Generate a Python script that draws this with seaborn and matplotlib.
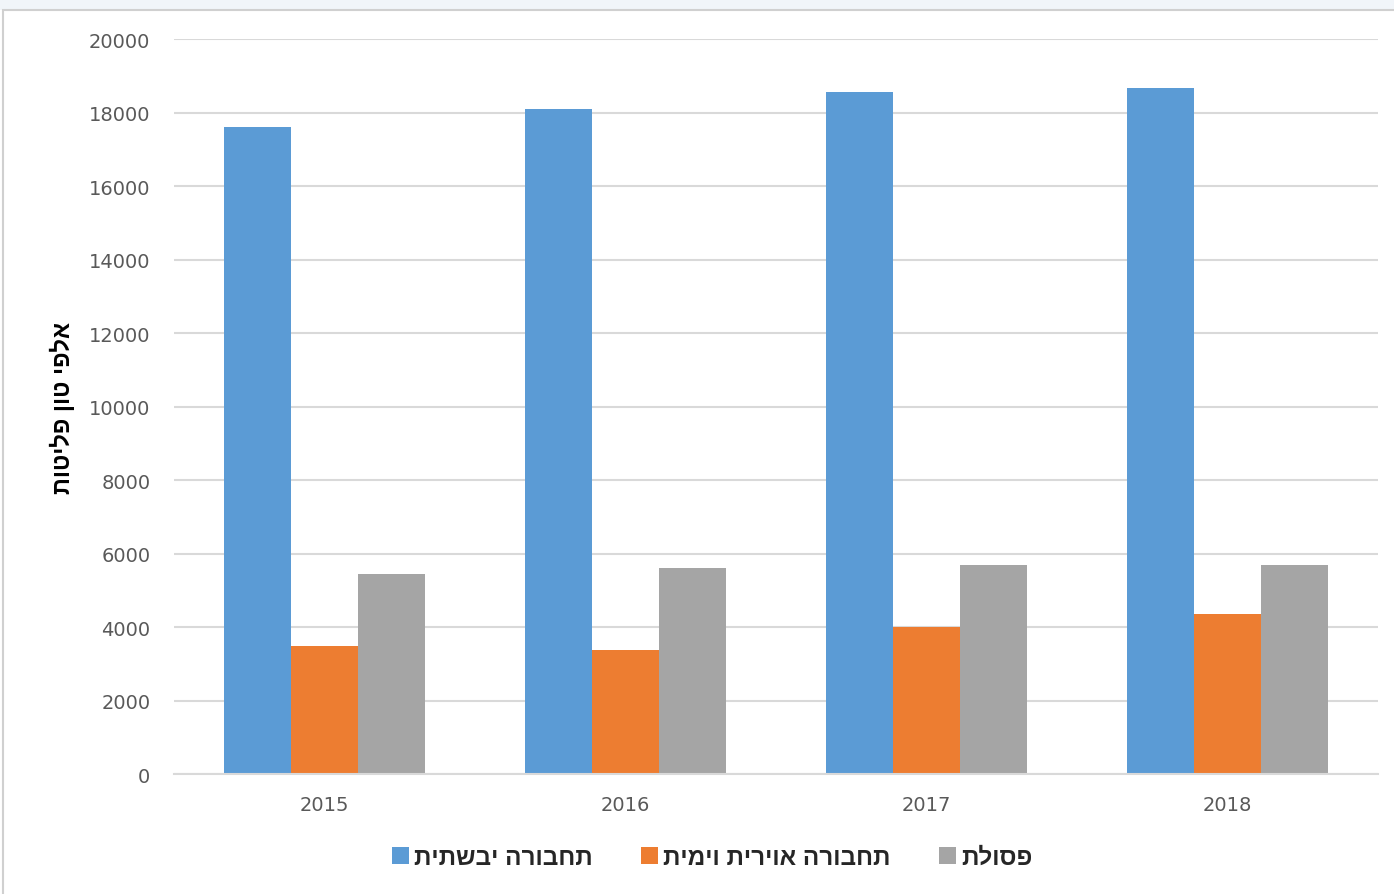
import numpy as np
import pandas as pd
import matplotlib
matplotlib.use("Agg")
import matplotlib.pyplot as plt
import seaborn as sns
from matplotlib.patches import Rectangle

years = ["2015", "2016", "2017", "2018"]
land = [17600, 18100, 18570, 18680]
air_sea = [3490, 3380, 4000, 4350]
waste = [5440, 5610, 5690, 5700]

series_names = ["תחבורה יבשתית", "תחבורה אוירית וימית", "פסולת"]
y_label = "אלפי טון פליטות"
y_ticks = [0, 2000, 4000, 6000, 8000, 10000, 12000, 14000, 16000, 18000, 20000]
colors = ["#5B9BD5", "#ED7D31", "#A5A5A5"]


def rtl(s):
    # matplotlib draws glyphs left to right only, so flip Hebrew for display
    return s[::-1]


rows = []
for name, vals in zip(series_names, [land, air_sea, waste]):
    for yr, v in zip(years, vals):
        rows.append({"year": yr, "series": rtl(name), "value": v})
df = pd.DataFrame(rows)

sns.set_style("white")
plt.rcParams['font.family'] = ['Liberation Sans', 'DejaVu Sans']

fig = plt.figure(figsize=(13.94, 8.95), dpi=100)
ax = fig.add_axes([0.1248, 0.134, 0.8637, 0.8213])

sns.barplot(data=df, x="year", y="value", hue="series", order=years,
            hue_order=[rtl(n) for n in series_names], palette=colors,
            width=0.667, saturation=1, ax=ax, edgecolor="none", linewidth=0)

ax.set_ylim(0, 20000)
ax.set_yticks(y_ticks)
ax.set_xlim(-0.5, 3.5)
ax.yaxis.grid(True, color="#d9d9d9", linewidth=1.5)
ax.set_axisbelow(True)
for side in ["top", "right", "left"]:
    ax.spines[side].set_visible(False)
ax.spines["bottom"].set_color("#d9d9d9")
ax.spines["bottom"].set_linewidth(1.5)
ax.tick_params(axis="both", length=0, labelsize=14, colors="#595959")
ax.tick_params(axis="y", pad=17)
ax.tick_params(axis="x", pad=15)
for lbl in ax.get_xticklabels() + ax.get_yticklabels():
    lbl.set_family(['DejaVu Sans'])
ax.set_xlabel("")
ax.set_ylabel(rtl(y_label), fontsize=17, fontweight="bold", color="black", labelpad=10)

handles, labels = ax.get_legend_handles_labels()
ax.get_legend().remove()
fig.legend(handles, labels, loc="center", bbox_to_anchor=(0.511, 0.041), ncol=3,
           frameon=False, prop={"size": 17.5, "weight": "bold"},
           handlelength=0.7, handleheight=0.7, handletextpad=0.2, columnspacing=2.0)

# light band at top and thin frame like the screenshot
fig.patches.append(Rectangle((0, 0.988), 1, 0.012, transform=fig.transFigure,
                             facecolor="#f1f5f9", edgecolor="none", zorder=0))
fig.patches.append(Rectangle((0.002, -0.01), 1.0, 0.998, transform=fig.transFigure,
                             facecolor="none", edgecolor="#d0d0d0", linewidth=1.5, zorder=0))

fig.savefig("out.png", dpi=100)
plt.close(fig)
